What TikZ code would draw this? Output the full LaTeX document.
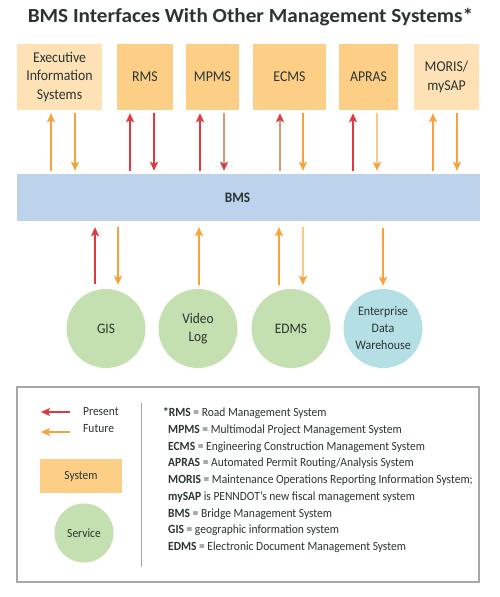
\documentclass[tikz,border=0pt]{standalone}
\usepackage{fontspec}
\setmainfont{Carlito}[FakeStretch=0.92]
\newfontfamily\titlefont{Carlito}[FakeStretch=1.06]
\usetikzlibrary{arrows.meta,calc}
\definecolor{cred}{HTML}{DF3A40}
\definecolor{corange}{HTML}{F7A23B}
\definecolor{ctan}{HTML}{D39B7B}
\definecolor{clight}{HTML}{FAC98A}
\definecolor{csys}{HTML}{FDCE85}
\definecolor{csyslight}{HTML}{FEE1B5}
\definecolor{cbar}{HTML}{BDD2EB}
\definecolor{cgreen}{HTML}{C4DFB0}
\definecolor{cblue}{HTML}{B4DFE5}
\definecolor{ctext}{HTML}{2B3533}
\definecolor{cborder}{HTML}{A8A8A8}
\begin{document}
\begin{tikzpicture}[x=1pt,y=-1pt,
  every node/.style={text=ctext},
  sysbox/.style={fill=csys, minimum height=66pt, inner sep=0pt, align=center,
    font=\fontsize{15}{18.5}\selectfont},
  syslight/.style={sysbox, fill=csyslight},
  svc/.style={circle, fill=cgreen, minimum size=79pt, inner sep=0pt, align=center,
    font=\fontsize{14.5}{18}\selectfont},
  headtip/.style={-{Stealth[length=9pt,width=8pt,inset=2pt,#1]}},
  pres/.style={line width=1.6pt, draw=cred, headtip={color=cred}},
  fut/.style={line width=1.6pt, draw=corange, headtip={color=corange}},
  tanred/.style={line width=1.6pt, draw=ctan, headtip={color=cred}},
  lightor/.style={line width=1.6pt, draw=clight, headtip={color=corange}},
  lg/.style={anchor=base west, inner sep=0pt, font=\fontsize{12.5}{15}\selectfont},
]
\useasboundingbox (0,0) rectangle (500,597);
\fill[white] (0,0) rectangle (500,597);

% title
\node[anchor=base, inner sep=0pt, font=\titlefont\bfseries\fontsize{20}{23}\selectfont] (title) at (250.5,22.5) {BMS Interfaces With Other Management Systems*};

% top systems
\node[syslight, minimum width=85pt] (eis) at (59.5,77) {Executive\\Information\\Systems};
\node[sysbox, minimum width=56pt] (rms) at (145,77) {RMS};
\node[sysbox, minimum width=53pt] (mpms) at (212.5,77) {MPMS};
\node[sysbox, minimum width=73pt] (ecms) at (289.5,77) {ECMS};
\node[sysbox, minimum width=59pt] (apras) at (368.5,77) {APRAS};
\node[syslight, minimum width=65pt] (moris) at (446.5,77) {MORIS/\\mySAP};

% BMS bar
\node[fill=cbar, minimum width=463pt, minimum height=47pt, inner sep=0pt] (bms) at (248.5,197.5) {};
\node[inner sep=0pt, font=\bfseries\fontsize{14.5}{17}\selectfont] (bmslabel) at ([xshift=-11pt]bms.center) {BMS};

% services
\node[svc] (gis) at (106,328.5) {GIS};
\node[svc] (video) at (198,328.5) {Video\\Log};
\node[svc] (edms) at (291,328.5) {EDMS};
\node[svc, fill=cblue, font=\fontsize{13}{17}\selectfont] (edw) at (383,328.5) {Enterprise\\Data\\Warehouse};

% upper arrows
\draw[fut] ($(eis.south |- bms.north)+(-8.5,-3)$) -- ($(eis.south)+(-8.5,3)$);
\draw[fut] ($(eis.south)+(15.5,3)$) -- ($(eis.south |- bms.north)+(15.5,-3)$);
\draw[pres] ($(rms.south |- bms.north)+(-15,-3)$) -- ($(rms.south)+(-15,3)$);
\draw[pres] ($(rms.south)+(9,3)$) -- ($(rms.south |- bms.north)+(9,-3)$);
\draw[pres] ($(mpms.south |- bms.north)+(-12.5,-3)$) -- ($(mpms.south)+(-12.5,3)$);
\draw[tanred] ($(mpms.south)+(11.5,3)$) -- ($(mpms.south |- bms.north)+(11.5,-3)$);
\draw[tanred] ($(ecms.south |- bms.north)+(-9.5,-3)$) -- ($(ecms.south)+(-9.5,3)$);
\draw[fut] ($(ecms.south)+(13.5,3)$) -- ($(ecms.south |- bms.north)+(13.5,-3)$);
\draw[pres] ($(apras.south |- bms.north)+(-15.5,-3)$) -- ($(apras.south)+(-15.5,3)$);
\draw[lightor] ($(apras.south)+(8.5,3)$) -- ($(apras.south |- bms.north)+(8.5,-3)$);
\draw[fut] ($(moris.south |- bms.north)+(-13.5,-3)$) -- ($(moris.south)+(-13.5,3)$);
\draw[fut] ($(moris.south)+(10.5,3)$) -- ($(moris.south |- bms.north)+(10.5,-3)$);

% lower arrows
\draw[pres] ($(gis.north)+(-11,-5)$) -- ($(gis.north |- bms.south)+(-11,6)$);
\draw[fut] ($(gis.north |- bms.south)+(12,6)$) -- ($(gis.north)+(12,-4)$);
\draw[fut] ($(video.north)+(1,-4)$) -- ($(video.north |- bms.south)+(1,6)$);
\draw[fut] ($(edms.north)+(-12,-4)$) -- ($(edms.north |- bms.south)+(-12,6)$);
\draw[lightor] ($(edms.north |- bms.south)+(12,6)$) -- ($(edms.north)+(12,-4)$);
\draw[fut] ($(edw.north |- bms.south)+(0,7)$) -- ($(edw.north)+(0,-3)$);

% legend
\node[draw=cborder, line width=1.3pt, minimum width=462pt, minimum height=195pt, inner sep=0pt] (legend) at (248,484.5) {};
\coordinate (pa) at (70,412);
\coordinate (pb) at (41,412);
\coordinate (fa) at (70,432);
\coordinate (fb) at (41,432);
\draw[pres] (pa) -- (pb);
\draw[fut] (fa) -- (fb);
\node[lg] (ptext) at (83,415.5) {Present};
\node[lg] (ftext) at (83,432.5) {Future};
\node[fill=csys, minimum width=82pt, minimum height=34pt, inner sep=0pt, font=\fontsize{12.5}{15}\selectfont] (sysleg) at (81,476) {System};
\node[circle, fill=cgreen, minimum size=59pt, inner sep=0pt, font=\fontsize{12.5}{15}\selectfont] (svcleg) at (84,533) {Service};
\draw[cborder, line width=1pt] (141,403) -- (141,567);

\node[lg] (l1) at (163,416.5) {\textbf{*RMS} = Road Management System};
\node[lg] (l2) at (168,433.3) {\textbf{MPMS} = Multimodal Project Management System};
\node[lg] (l3) at (168,450) {\textbf{ECMS} = Engineering Construction Management System};
\node[lg] (l4) at (168,466.8) {\textbf{APRAS} = Automated Permit Routing/Analysis System};
\node[lg] (l5) at (168,483.5) {\textbf{MORIS} = Maintenance Operations Reporting Information System;};
\node[lg] (l6) at (168,500.3) {\textbf{mySAP} is PENNDOT’s new fiscal management system};
\node[lg] (l7) at (168,517) {\textbf{BMS} = Bridge Management System};
\node[lg] (l8) at (168,533.8) {\textbf{GIS} = geographic information system};
\node[lg] (l9) at (168,550.5) {\textbf{EDMS} = Electronic Document Management System};
\end{tikzpicture}
\end{document}
